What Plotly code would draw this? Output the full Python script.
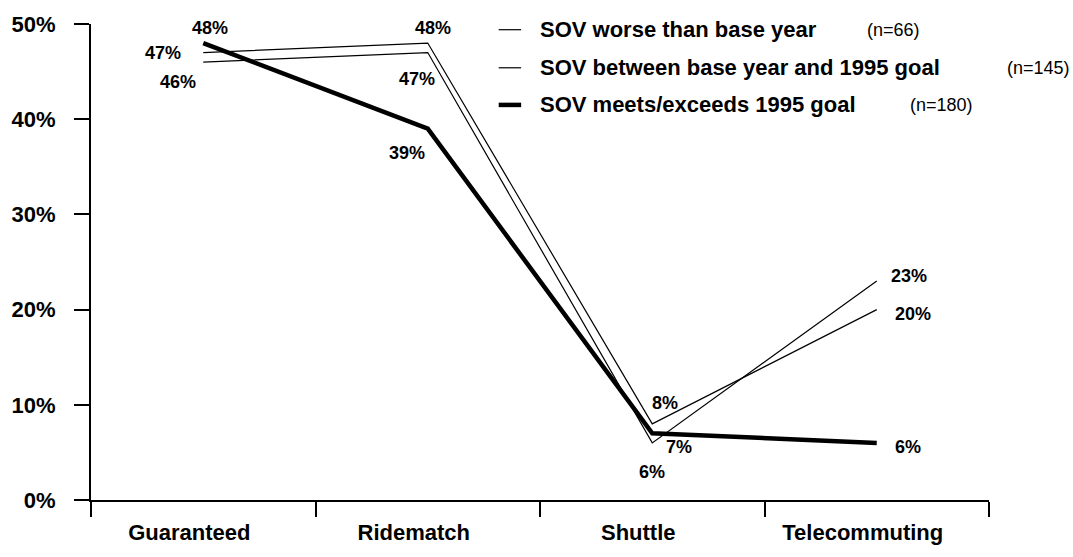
import plotly.graph_objects as go

# data
categories = ["Guaranteed", "Ridematch", "Shuttle", "Telecommuting"]
sov_worse = [47, 48, 8, 20]
sov_between = [46, 47, 6, 23]
sov_meets = [48, 39, 7, 6]
y_ticks = [0, 10, 20, 30, 40, 50]

series_names = ["SOV worse than base year",
                "SOV between base year and 1995 goal",
                "SOV meets/exceeds 1995 goal"]
series_n = ["(n=66)", "(n=145)", "(n=180)"]

FONT = "Liberation Sans, Arial, Helvetica, sans-serif"

# label offsets (pixels) for the value labels, per series
label_shift = [
    [(-40, 0), (5, 15), (13, 21), (36, -4)],
    [(-25, -20), (-11, -26), (0, -29), (32, 5)],
    [(7, 15), (-21, -24), (27, -14), (31, -4)],
]
line_widths = [1.2, 1.2, 4.5]

fig = go.Figure()

all_series = [sov_worse, sov_between, sov_meets]
for vals, name, lw in zip(all_series, series_names, line_widths):
    fig.add_trace(go.Scatter(
        x=categories, y=vals, mode="lines", name=name,
        line=dict(color="black", width=lw),
        showlegend=False, hoverinfo="skip"
    ))

annotations = []
for vals, shifts in zip(all_series, label_shift):
    for cat, v, (dx, dy) in zip(categories, vals, shifts):
        annotations.append(dict(
            x=cat, y=v, xref="x", yref="y", text=f"{v}%", showarrow=False,
            xanchor="center", yanchor="middle", xshift=dx, yshift=dy,
            font=dict(family=FONT, size=18, color="black", weight="bold")
        ))

# hand-made legend: short line sample, bold name, (n=..) count
leg_rows_y = [0.988, 0.908, 0.830]
leg_n_x = [0.862, 1.018, 0.910]
shapes = []
for name, n, y, nx, lw in zip(series_names, series_n, leg_rows_y, leg_n_x, line_widths):
    shapes.append(dict(type="line", xref="paper", yref="paper",
                       x0=0.454, x1=0.479, y0=y, y1=y,
                       line=dict(color="black", width=lw)))
    annotations.append(dict(
        x=0.498, y=y, xref="paper", yref="paper", text=name, showarrow=False,
        xanchor="left", yanchor="middle",
        font=dict(family=FONT, size=22, color="black", weight="bold")
    ))
    annotations.append(dict(
        x=nx, y=y, xref="paper", yref="paper", text=n, showarrow=False,
        xanchor="left", yanchor="middle",
        font=dict(family=FONT, size=18, color="black")
    ))

fig.update_layout(
    width=1073, height=557,
    margin=dict(l=91, r=84, t=23, b=45),
    plot_bgcolor="white", paper_bgcolor="white",
    font=dict(family=FONT, color="black"),
    annotations=annotations,
    shapes=shapes,
    xaxis=dict(
        type="category", range=[-0.5, 3.5],
        tickson="boundaries", ticks="outside", ticklen=15, tickwidth=2,
        tickcolor="black", showline=True, linecolor="black", linewidth=2,
        showgrid=False, zeroline=False, ticklabelshift=-14,
        ticklabelstandoff=12,
        tickfont=dict(family=FONT, size=22, color="black", weight="bold")
    ),
    yaxis=dict(
        range=[0, 50], tickvals=y_ticks,
        ticktext=[f"{v}%" for v in y_ticks],
        ticks="outside", ticklen=15, tickwidth=2, tickcolor="black",
        showline=True, linecolor="black", linewidth=2,
        showgrid=False, zeroline=False, ticklabelstandoff=14,
        tickfont=dict(family=FONT, size=22, color="black", weight="bold")
    ),
)

# drop the default 8px body margin so the figure sits at the window's corner
fig.write_html("out.html",
               config={"displayModeBar": False},
               post_script="document.body.style.margin='0';"
                           "document.body.style.overflow='hidden';")
